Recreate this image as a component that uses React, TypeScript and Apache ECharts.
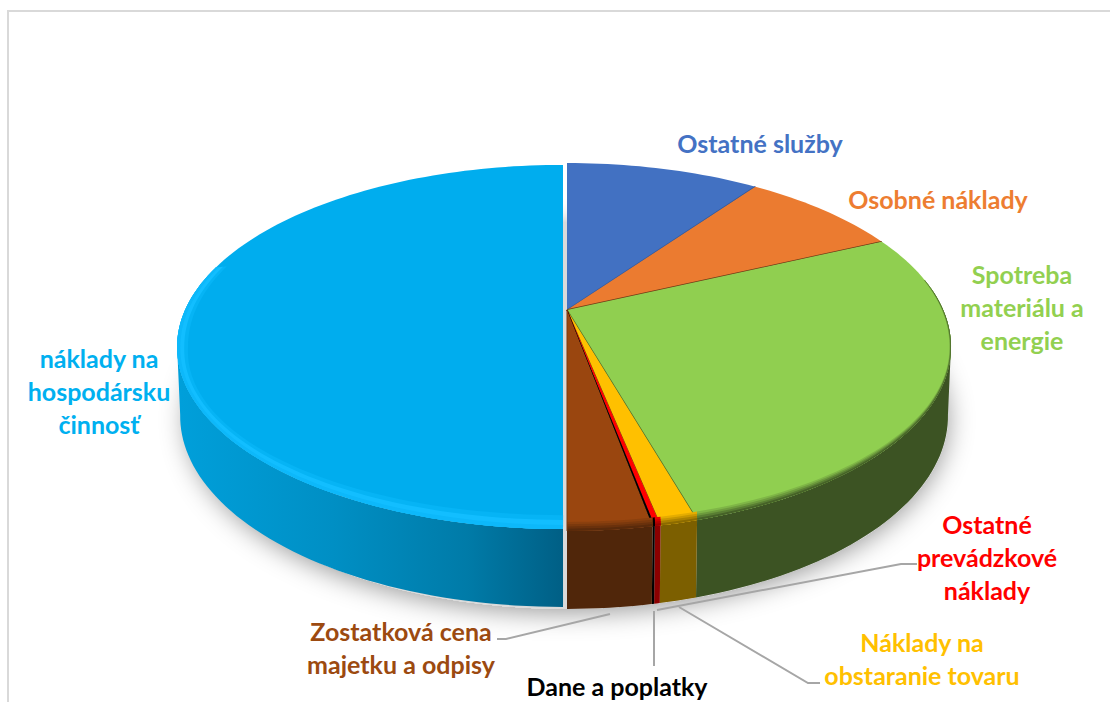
import React, { useEffect, useRef } from "react";
import * as echarts from "echarts";

const categories = [
  "Ostatné služby",
  "Osobné náklady",
  "Spotreba materiálu a energie",
  "Náklady na obstaranie tovaru",
  "Ostatné prevádzkové náklady",
  "Dane a poplatky",
  "Zostatková cena majetku a odpisy",
  "náklady na hospodársku činnosť",
];
const values = [9.9, 8.2, 27.4, 1.3, 0.2, 0.08, 2.92, 50];
const topColors = ["#4271C2", "#EB7B30", "#90CF50", "#FFC000", "#FF0000", "#000000", "#9A460F", "#00ADEE"];
const wallColors = ["#2F5597", "#7A3F16", "#3C5323", "#7C5F00", "#8B0000", "#000000", "#50260A", "#0079A8"];
const seamColors = ["#35599A", "#6F3A16", "#4A6A2A", "#7C5F00", "#FF0000", "#000000", "#7A3A10", "#00ADEE"];
const labelLines = [
  { text: "Ostatné služby", x: 760, y: 143, color: "#4472C4" },
  { text: "Osobné náklady", x: 938, y: 199, color: "#ED7D31" },
  { text: "Spotreba\nmateriálu a\nenergie", x: 1022, y: 307, color: "#92D050" },
  { text: "Ostatné\nprevádzkové\nnáklady", x: 987, y: 557, color: "#FF0000" },
  { text: "Náklady na\nobstaranie tovaru", x: 922, y: 658.5, color: "#FFC000" },
  { text: "Dane a poplatky", x: 617, y: 686, color: "#000000" },
  { text: "Zostatková cena\nmajetku a odpisy", x: 401, y: 647, color: "#9C4A10" },
  { text: "náklady na\nhospodársku\nčinnosť", x: 99, y: 391, color: "#00B0F0" },
];
const leaderLines = [
  [[497, 639], [506, 639], [610, 614]],
  [[654, 611], [654, 666]],
  [[657, 610], [901, 564], [917, 564]],
  [[679, 607], [808, 683], [820, 683]],
];

const CX = 567, Y0 = 310, A = 376.2, B = 176.5, K = 0.201;
const ECY = 347, RIM_RY = 184, WALL_CY = 416, WALL_SY = 193 / 184, WALL_SX = 0.992;
const NEAR_FROM = 101.2, NEAR_TO = 258.8;
const total = values.reduce((a, b) => a + b, 0);
const isBlue = (i: number) => i === values.length - 1;

function project(deg: number, r: number, i: number): number[] {
  const t = (deg * Math.PI) / 180;
  const u = r * Math.sin(t), v = r * Math.cos(t);
  const w = 1 + K * v;
  let x = CX + (A * u) / w;
  let y = Y0 - (B * v) / w;
  if (isBlue(i)) {
    x = CX - 4 + (x - CX) * 1.005;
    y = ECY + (y - ECY) * 0.99;
  }
  return [x, y];
}
const toWall = (p: number[]) => [CX + (p[0] - CX) * WALL_SX, WALL_CY + (p[1] - ECY) * WALL_SY];

function arc(a: number, b: number, r: number, i: number) {
  const n = Math.max(2, Math.ceil(Math.abs(b - a) / 1.5));
  const pts: number[][] = [];
  for (let k = 0; k <= n; k++) pts.push(project(a + ((b - a) * k) / n, r, i));
  return pts;
}
function sliceRange(i: number) {
  let s = 0;
  for (let k = 0; k < i; k++) s += values[k];
  return [(s / total) * 360, ((s + values[i]) / total) * 360];
}
function mix(c1: string, c2: string, t: number) {
  const p = (c: string, o: number) => parseInt(c.slice(o, o + 2), 16);
  const ch = (o: number) => Math.round(p(c1, o) + (p(c2, o) - p(c1, o)) * t).toString(16).padStart(2, "0");
  return "#" + ch(1) + ch(3) + ch(5);
}
function wallFill(i: number) {
  if (isBlue(i)) {
    return new echarts.graphic.LinearGradient(180, 0, 563, 0, [
      { offset: 0, color: "#009FDA" },
      { offset: 0.4, color: "#008FC4" },
      { offset: 0.75, color: "#007BA8" },
      { offset: 1, color: "#005F85" },
    ], true);
  }
  return wallColors[i];
}

function renderWall(params: any) {
  const i = params.dataIndex;
  const [a0, b0] = sliceRange(i);
  const children: any[] = [];
  if (i === 0) {
    const ring = arc(0, 360, 1, 0).map(toWall);
    children.push({
      type: "polygon",
      shape: { points: ring },
      style: { fill: "#DADADA", shadowBlur: 26, shadowColor: "rgba(0,0,0,0.4)", shadowOffsetX: 0, shadowOffsetY: 4 },
    });
  }
  const a = Math.max(a0, NEAR_FROM), b = Math.min(b0, NEAR_TO);
  if (b > a) {
    const rim = arc(a, b, 1, i);
    const low = rim.map(toWall).reverse();
    children.push({ type: "polygon", shape: { points: rim.concat(low) }, style: { fill: wallFill(i) } });
  }
  return { type: "group", children };
}

const blueBands = [
  { f: 1, color: "#06B4F5" },
  { f: 0.66, color: "#12BEFF" },
  { f: 0.3, color: "#0DB8FA" },
];
const otherBands = [
  { f: 1, t: 0.2 },
  { f: 0.75, t: 0.42 },
  { f: 0.5, t: 0.65 },
  { f: 0.25, t: 0.88 },
];

function renderTop(params: any) {
  const i = params.dataIndex;
  const [a0, b0] = sliceRange(i);
  const apex = project(0, 0, i);
  const children: any[] = [
    { type: "polygon", shape: { points: [apex].concat(arc(a0, b0, 1, i)) }, style: { fill: topColors[i] } },
  ];
  const blue = isBlue(i);
  const from = Math.max(a0, blue ? 90 : 80), to = Math.min(b0, blue ? 285 : 275);
  if (to > from) {
    const bands: any[] = blue ? blueBands : otherBands;
    bands.forEach((band) => {
      const rim = arc(from, to, 1, i);
      const inner = rim.map((p) => {
        const d = (p[1] - ECY) / RIM_RY;
        const side = blue ? 11 * band.f : 1.6 * band.f;
        const px = p[0] + (p[0] < CX ? 1 : -1) * side * (1 - Math.max(0, d));
        const py = p[1] - (blue ? 14 : 9) * band.f * Math.max(0.08, d);
        return [px, py];
      });
      children.push({
        type: "polygon",
        shape: { points: rim.concat(inner.reverse()) },
        style: { fill: blue ? band.color : mix(topColors[i], wallColors[i], band.t) },
      });
    });
  }
  if (!blue) {
    children.push({
      type: "polyline",
      shape: { points: [apex, project(b0, 1, i)] },
      style: { stroke: seamColors[i], lineWidth: i < 3 ? 1.4 : 1, fill: "none" },
    });
  }
  return { type: "group", children };
}

export default function App() {
  const ref = useRef<HTMLDivElement>(null);
  useEffect(() => {
    document.body.style.margin = "0";
    const chart = echarts.init(ref.current!, null, { renderer: "svg" });
    const seriesData = values.map((v, i) => ({ name: categories[i], value: [v] }));
    chart.setOption({
      animation: false,
      backgroundColor: "#FFFFFF",
      series: [
        { type: "custom", coordinateSystem: "none", renderItem: renderWall, data: seriesData, z: 1, silent: true },
        { type: "custom", coordinateSystem: "none", renderItem: renderTop, data: seriesData, z: 2, silent: true },
      ],
      graphic: [
        { type: "line", z: 5, shape: { x1: 7, y1: 11, x2: 1110, y2: 11 }, style: { stroke: "#D9D9D9", lineWidth: 2 } },
        { type: "line", z: 5, shape: { x1: 8, y1: 11, x2: 8, y2: 702 }, style: { stroke: "#D9D9D9", lineWidth: 2 } },
        ...leaderLines.map((pts) => ({
          type: "polyline",
          z: 6,
          shape: { points: pts },
          style: { stroke: "#A6A6A6", lineWidth: 2, fill: "none" },
        })),
        ...labelLines.map((l) => ({
          type: "text",
          z: 7,
          x: l.x,
          y: l.y,
          style: {
            text: l.text,
            fill: l.color,
            font: 'bold 25px Lato, "Open Sans", sans-serif',
            lineHeight: 33,
            textAlign: "center",
            textVerticalAlign: "middle",
          },
        })),
      ],
    });
    return () => chart.dispose();
  }, []);
  return <div ref={ref} style={{ width: 1110, height: 702 }} />;
}
